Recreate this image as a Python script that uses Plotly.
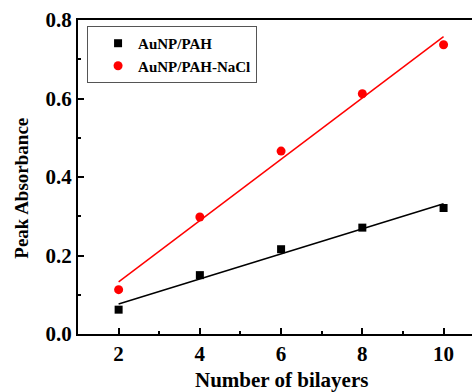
import numpy as np
import plotly.graph_objects as go

bilayers = [2, 4, 6, 8, 10]
pah = [0.062, 0.150, 0.216, 0.271, 0.321]
pah_nacl = [0.113, 0.298, 0.466, 0.612, 0.737]
names = ["AuNP/PAH", "AuNP/PAH-NaCl"]
colors = ["black", "red"]
symbols = ["square", "circle"]
x_title = "Number of bilayers"
y_title = "Peak Absorbance"

FONT = "Liberation Serif"

fig = go.Figure()
for ys, name, c, s in zip([pah, pah_nacl], names, colors, symbols):
    fig.add_trace(go.Scatter(x=bilayers, y=ys, mode="markers", name=name,
                             marker=dict(symbol=s, color=c, size=8 if s == "square" else 9,
                                         line=dict(width=0))))
for ys, c in zip([pah, pah_nacl], colors):
    k, b = np.polyfit(bilayers, ys, 1)
    xs = [bilayers[0], bilayers[-1]]
    fig.add_trace(go.Scatter(x=xs, y=[k * xv + b for xv in xs], mode="lines",
                             line=dict(color=c, width=1.5), showlegend=False))

axis_common = dict(showline=True, linecolor="black", linewidth=2, ticks="inside",
                   tickcolor="black", tickwidth=1.5, ticklen=6, showgrid=False,
                   zeroline=False,
                   tickfont=dict(family=FONT, size=21, color="black", weight="bold"))
fig.update_xaxes(range=[1, 10.70], tickvals=[2, 4, 6, 8, 10], mirror=True,
                 minor=dict(ticks="inside", ticklen=3, tickwidth=1.5, dtick=1, tick0=1,
                            tickcolor="black"),
                 **axis_common)
fig.update_yaxes(range=[0, 0.8], tickvals=[0, 0.2, 0.4, 0.6, 0.8], tickformat=".1f",
                 mirror=False,
                 minor=dict(ticks="inside", ticklen=3, tickwidth=1.5, dtick=0.1, tick0=0,
                            tickcolor="black"),
                 **axis_common)

fig.add_annotation(text=x_title, xref="paper", yref="paper", x=0.5165, y=-0.148,
                   xanchor="center", yanchor="middle", showarrow=False,
                   font=dict(family=FONT, size=21, color="black", weight="bold"))
fig.add_annotation(text=y_title, xref="paper", yref="paper", x=-0.142, y=0.463,
                   xanchor="center", yanchor="middle", showarrow=False, textangle=-90,
                   font=dict(family=FONT, size=19, color="black", weight="bold"))

fig.update_layout(
    width=472, height=392,
    margin=dict(l=78, r=0, t=20, b=58),
    paper_bgcolor="white", plot_bgcolor="white",
    font=dict(family=FONT, color="black"),
    legend=dict(x=0.023, y=0.981, xanchor="left", yanchor="top",
                bordercolor="#555555", borderwidth=1, bgcolor="white",
                font=dict(family=FONT, size=15, color="black", weight="bold"),
                indentation=10, itemwidth=30, tracegroupgap=0),
)

fig.write_html("out.html")
